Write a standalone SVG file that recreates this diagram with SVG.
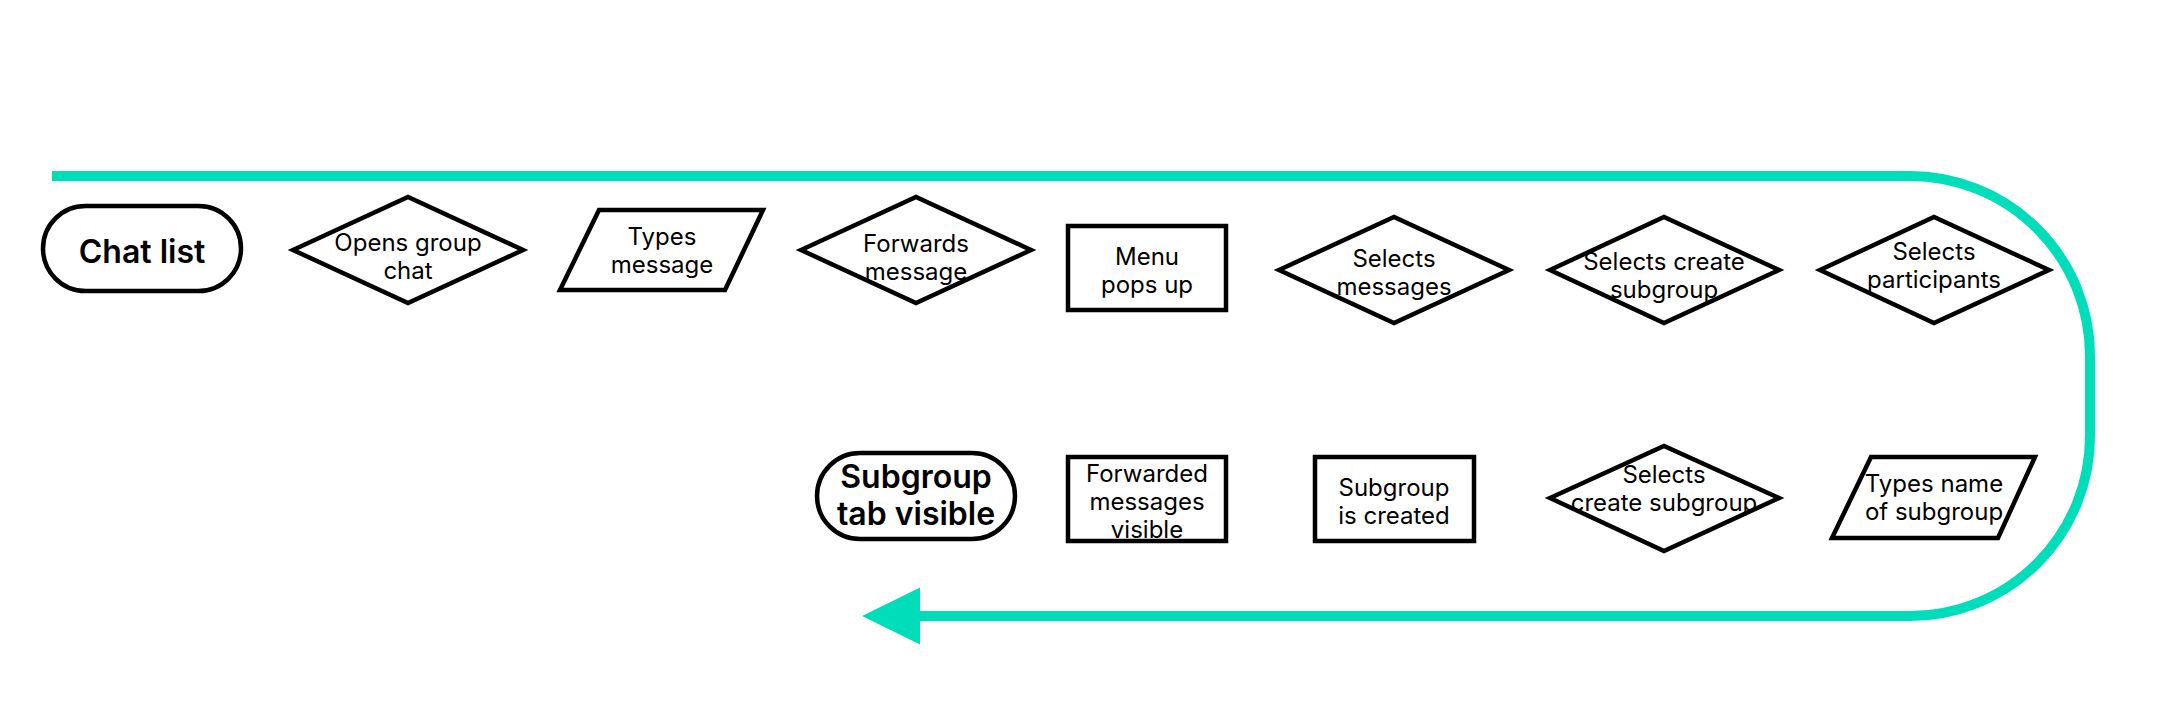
<svg xmlns="http://www.w3.org/2000/svg" width="2180" height="724" viewBox="0 0 2180 724">
<style>
.s{fill:#fff;stroke:#000;stroke-width:4.5;stroke-linejoin:miter}
.t{font-family:Inter,"Noto Sans","Liberation Sans",sans-serif;font-size:24px;fill:#000;text-anchor:middle}
.b{font-family:Inter,"Noto Sans","Liberation Sans",sans-serif;font-size:32px;font-weight:600;fill:#000;text-anchor:middle}
.c{fill:none;stroke:#00DDBB;stroke-width:10}
</style>
<defs>
<marker id="ah" markerUnits="userSpaceOnUse" markerWidth="58" markerHeight="58" refX="0" refY="28.5" orient="auto" overflow="visible">
<path d="M0,0 L58,28.5 L0,57 Z" fill="#00DDBB"/>
</marker>
</defs>
<rect width="2180" height="724" fill="#fff"/>
<g id="connectors">
<path class="c" d="M52,176 H1910 A180,180 0 0 1 2090,356 V436 A180,180 0 0 1 1910,616 H920" marker-end="url(#ah)"/>
</g>
<g id="chat-list">
<rect class="s" x="43" y="206" width="198" height="85" rx="42.5"/>
<text class="b" x="142" y="263">Chat list</text>
</g>
<g id="opens-group-chat">
<polygon class="s" points="293,250 408,197 523,250 408,303"/>
<text class="t" x="408" y="251">Opens group</text>
<text class="t" x="408" y="279">chat</text>
</g>
<g id="types-message">
<polygon class="s" points="599,210 763,210 725,290 560,290"/>
<text class="t" x="662" y="245">Types</text>
<text class="t" x="662" y="273">message</text>
</g>
<g id="forwards-message">
<polygon class="s" points="801,250 916,197 1031,250 916,303"/>
<text class="t" x="916" y="252">Forwards</text>
<text class="t" x="916" y="280">message</text>
</g>
<g id="menu-pops-up">
<rect class="s" x="1068" y="226" width="158" height="84"/>
<text class="t" x="1147" y="265">Menu</text>
<text class="t" x="1147" y="293">pops up</text>
</g>
<g id="selects-messages">
<polygon class="s" points="1279,270 1394,217 1509,270 1394,323"/>
<text class="t" x="1394" y="267">Selects</text>
<text class="t" x="1394" y="295">messages</text>
</g>
<g id="selects-create-subgroup-1">
<polygon class="s" points="1550,270 1664,217 1779,270 1664,323"/>
<text class="t" x="1664" y="270">Selects create</text>
<text class="t" x="1664" y="298">subgroup</text>
</g>
<g id="selects-participants">
<polygon class="s" points="1820,270 1934,217 2049,270 1934,323"/>
<text class="t" x="1934" y="260">Selects</text>
<text class="t" x="1934" y="288">participants</text>
</g>
<g id="subgroup-tab-visible">
<rect class="s" x="817" y="453" width="198" height="86" rx="43"/>
<text class="b" x="916" y="488">Subgroup</text>
<text class="b" x="916" y="525">tab visible</text>
</g>
<g id="forwarded-messages-visible">
<rect class="s" x="1068" y="457" width="158" height="84"/>
<text class="t" x="1147" y="482">Forwarded</text>
<text class="t" x="1147" y="510">messages</text>
<text class="t" x="1147" y="538">visible</text>
</g>
<g id="subgroup-is-created">
<rect class="s" x="1315" y="457" width="159" height="84"/>
<text class="t" x="1394" y="496">Subgroup</text>
<text class="t" x="1394" y="524">is created</text>
</g>
<g id="selects-create-subgroup-2">
<polygon class="s" points="1550,498 1664,446 1779,498 1664,551"/>
<text class="t" x="1664" y="483">Selects</text>
<text class="t" x="1664" y="511">create subgroup</text>
</g>
<g id="types-name-of-subgroup">
<polygon class="s" points="1871,457 2035,457 1998,538 1832,538"/>
<text class="t" x="1934" y="492">Types name</text>
<text class="t" x="1934" y="520">of subgroup</text>
</g>
</svg>
